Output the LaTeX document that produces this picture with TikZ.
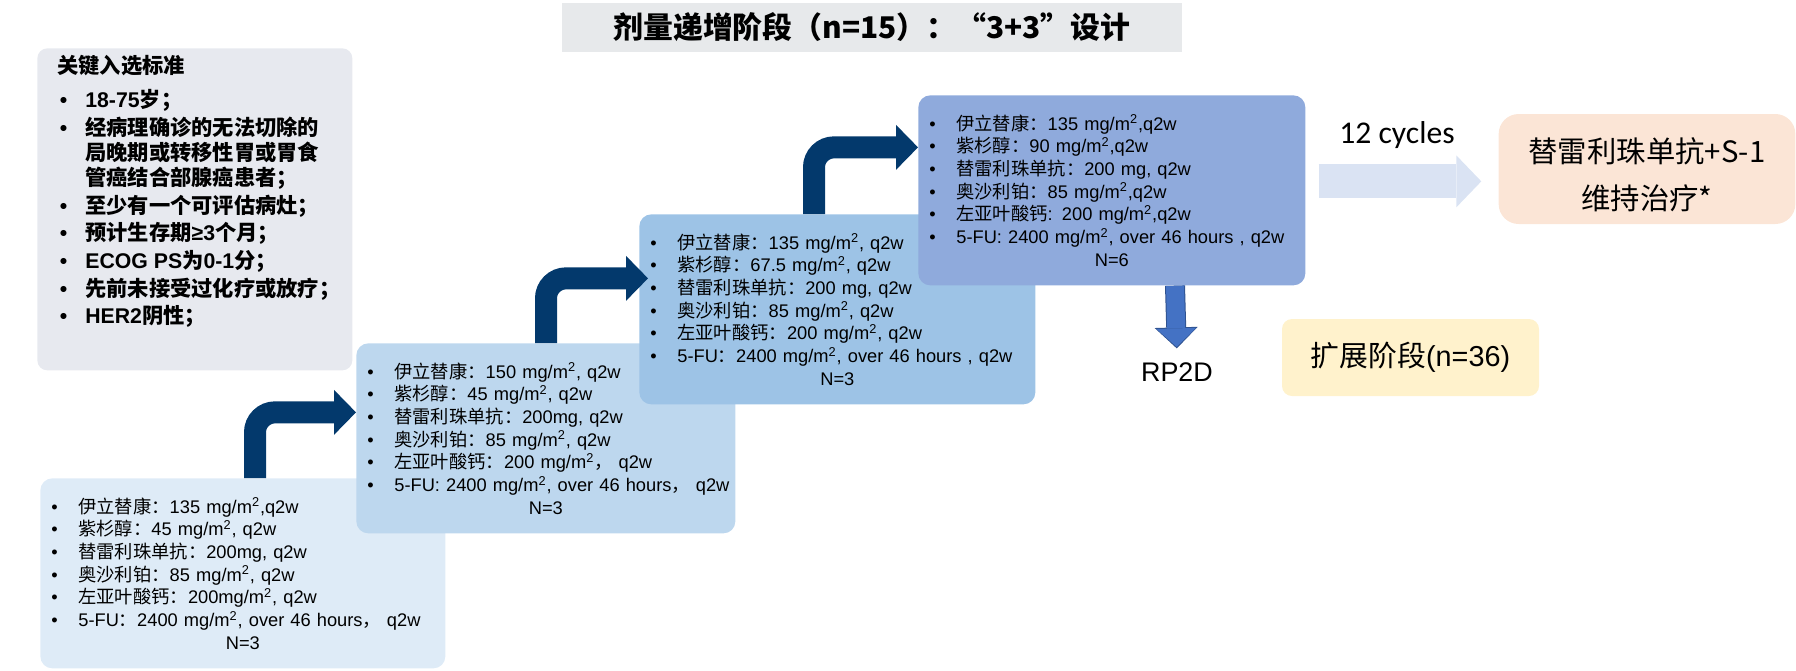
\documentclass[tikz,border=0pt]{standalone}
\usepackage{fontspec}
\setmainfont{Liberation Sans}
\newfontfamily\cjk{Noto Sans CJK SC}
\newfontfamily\calib{Carlito}
\usetikzlibrary{arrows.meta,positioning}
\definecolor{pale}{RGB}{222,235,247}
\definecolor{sky}{RGB}{189,215,238}
\definecolor{azure}{RGB}{157,195,230}
\definecolor{steel}{RGB}{143,170,220}
\definecolor{navy}{RGB}{3,57,108}
\definecolor{royal}{RGB}{68,114,196}
\definecolor{royaldark}{RGB}{47,82,143}
\definecolor{mist}{RGB}{218,227,243}
\definecolor{peach}{RGB}{251,229,214}
\definecolor{cream}{RGB}{255,242,204}
\definecolor{slate}{RGB}{231,233,239}
\definecolor{fog}{RGB}{231,233,235}
% han characters switch to the CJK family by themselves
\newXeTeXintercharclass\hanclass
\newcount\hc
\def\hanrange#1#2{\hc=#1 \loop\XeTeXcharclass\hc=\hanclass
  \ifnum\hc<#2 \advance\hc by 1 \repeat}
\hanrange{"3000}{"303F}
\hanrange{"4E00}{"9FFF}
\hanrange{"FF00}{"FFEF}
\XeTeXinterchartoks 0 \hanclass = {\cjk}
\XeTeXinterchartoks 4095 \hanclass = {\cjk}
\XeTeXinterchartoks \hanclass 0 = {\rmfamily}
\XeTeXinterchartoks \hanclass 4095 = {\rmfamily}
\XeTeXinterchartokenstate=1
\newcommand\bl{\makebox[5.4mm][l]{\textbullet}}
\newcommand\sq{\textsuperscript{2}}
\newcommand\cnt[1]{\makebox[\hsize]{#1}}
\newcommand\crit[1]{\par\vspace{0.55mm}\hangindent=5.6mm\hangafter=1\noindent
  \hspace*{0.5mm}\makebox[5.1mm][l]{\textbullet}#1}
\tikzset{
  dose/.style={fill=#1,rounded corners=2.4mm,anchor=north west,minimum height=38mm,
    inner xsep=2.2mm,align=left,font=\fontsize{10.4}{12.9}\selectfont},
  climb/.style={draw=navy,line width=4.4mm,rounded corners=4mm,
    -{Triangle[length=4.4mm,width=9mm,line width=0pt]}},
  dropedge/.style={draw=royaldark,line width=4mm,
    -{Triangle[length=4.2mm,width=8.6mm,line width=0pt]}},
  drop/.style={draw=royal,line width=3.6mm,
    -{Triangle[length=3.7mm,width=7.9mm,line width=0pt]}},
  wide/.style={draw=mist,line width=6.8mm,
    -{Triangle[length=5mm,width=10.4mm,line width=0pt]}},
  cjkonly/.style={font={\XeTeXinterchartokenstate=0 \cjk#1}},
  tag/.style={fill=#1,align=center},
}
\begin{document}
\begin{tikzpicture}[x=0.2mm,y=-0.2mm]
  \useasboundingbox (0,0) rectangle (1796,670);
  \node[tag=fog,minimum width=124mm,minimum height=9.8mm,
    cjkonly=\bfseries\fontsize{17}{20}\selectfont] (ttl) at (872,27.5)
    {剂量递增阶段（n=15）：“3+3”设计};
  \node[fill=slate,rounded corners=2mm,anchor=north west,inner xsep=4mm,inner ysep=0.6mm,
    font=\bfseries\fontsize{12.1}{14.2}\selectfont] (crit) at (37,48)
    {\parbox[c][63.2mm][t]{55mm}{\raggedright
      \vspace*{0.8mm}关键入选标准\par\vspace{1.3mm}
      \crit{18-75岁；}
      \crit{经病理确诊的无法切除的\newline 局晚期或转移性胃或胃食\newline 管癌结合部腺癌患者；}
      \crit{至少有一个可评估病灶；}
      \crit{预计生存期≥3个月；}
      \crit{ECOG PS为0-1分；}
      \crit{先前未接受过化疗或放疗；}
      \crit{HER2阴性；}}};
  \node[dose=pale,text width=76.6mm] (b1) at (40,478)
    {\bl 伊立替康：135 mg/m\sq,q2w\\
     \bl 紫杉醇：45 mg/m\sq, q2w\\
     \bl 替雷利珠单抗：200mg, q2w\\
     \bl 奥沙利铂：85 mg/m\sq, q2w\\
     \bl 左亚叶酸钙：200mg/m\sq, q2w\\
     \bl \mbox{5-FU：2400 mg/m\sq, over 46 hours， q2w}\\
     \cnt{N=3}};
  \node[dose=sky,text width=71.4mm] (b2) at (356,343)
    {\bl 伊立替康：150 mg/m\sq, q2w\\
     \bl 紫杉醇：45 mg/m\sq, q2w\\
     \bl 替雷利珠单抗：200mg, q2w\\
     \bl 奥沙利铂：85 mg/m\sq, q2w\\
     \bl 左亚叶酸钙：200 mg/m\sq， q2w\\
     \bl \mbox{5-FU: 2400 mg/m\sq, over 46 hours， q2w}\\
     \cnt{N=3}};
  \node[dose=azure,text width=74.8mm] (b3) at (639,214)
    {\bl 伊立替康：135 mg/m\sq, q2w\\
     \bl 紫杉醇：67.5 mg/m\sq, q2w\\
     \bl 替雷利珠单抗：200 mg, q2w\\
     \bl 奥沙利铂：85 mg/m\sq, q2w\\
     \bl 左亚叶酸钙：200 mg/m\sq, q2w\\
     \bl \mbox{5-FU：2400 mg/m\sq, over 46 hours , q2w}\\
     \cnt{N=3}};
  \node[dose=steel,text width=73mm] (b4) at (918,95)
    {\bl 伊立替康：135 mg/m\sq,q2w\\
     \bl 紫杉醇：90 mg/m\sq,q2w\\
     \bl 替雷利珠单抗：200 mg, q2w\\
     \bl 奥沙利铂：85 mg/m\sq,q2w\\
     \bl 左亚叶酸钙: 200 mg/m\sq,q2w\\
     \bl \mbox{5-FU: 2400 mg/m\sq, over 46 hours , q2w}\\
     \cnt{N=6}};
  \draw[climb] ([xshift=43mm]b1.north west) |- ([yshift=5.2mm]b2.west);
  \draw[climb] ([xshift=38mm]b2.north west) |- ([xshift=1.8mm,yshift=6.2mm]b3.west);
  \draw[climb] ([xshift=35mm]b3.north west) |- ([yshift=8.6mm]b4.west);
  \node[font=\fontsize{15.3}{18}\selectfont] (rp) at (1177,372) {RP2D};
  \draw[dropedge,shorten >=1.6mm] ([xshift=51.4mm]b4.south west) -- (rp.north);
  \draw[drop,shorten >=1.9mm] ([xshift=51.4mm]b4.south west) -- (rp.north);
  \node[tag=peach,rounded corners=4mm,minimum width=59.2mm,minimum height=22mm,
    cjkonly=\fontsize{16.7}{27}\selectfont] (mt) at (1647,169)
    {\parbox[c][18mm][c]{57mm}{\centering\vspace*{2.2mm}替雷利珠单抗+S-1\\维持治疗*}};
  \coordinate (cy) at ([xshift=2.6mm,yshift=1.8mm]b4.east);
  \draw[wide,shorten >=3.4mm] (cy) -- (cy -| mt.west);
  \node[font=\calib\fontsize{18}{20}\selectfont] (cyc) at (1397,135) {12 cycles};
  \node[tag=cream,rounded corners=2mm,minimum width=51.4mm,minimum height=15.4mm,
    font=\fontsize{16.4}{20}\selectfont] (ex) at (1410.5,357.5) {扩展阶段(n=36)};
\end{tikzpicture}
\end{document}
